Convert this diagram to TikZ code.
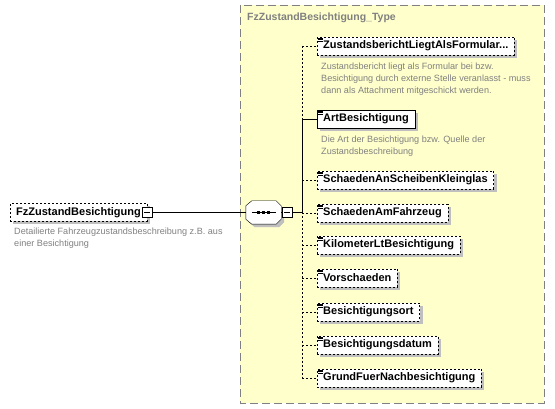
\documentclass[tikz,border=0pt]{standalone}
\usepackage{fontspec}
\setmainfont{Liberation Sans}
\usetikzlibrary{positioning,shadows}

\definecolor{typefill}{HTML}{FFFFCC}
\definecolor{docgray}{HTML}{808080}

\tikzset{
  shadowed/.style={drop shadow={shadow xshift=3pt, shadow yshift=-3pt, fill=black!25, opacity=1}},
  elem/.style={draw, fill=white, anchor=west, minimum height=18pt, inner xsep=6pt, inner ysep=0pt,
    font=\fontsize{11}{12}\selectfont\bfseries, shadowed},
  optelem/.style={elem, dash pattern=on 2pt off 2pt},
  optline/.style={dash pattern=on 2pt off 2pt},
  doc/.style={anchor=north west, inner sep=0pt, align=left, text=docgray, font=\fontsize{9.1}{12}\selectfont},
  btn/.style={draw, fill=white, minimum size=10pt, inner sep=0pt,
    path picture={\draw ([xshift=2pt]path picture bounding box.west) -- ([xshift=-2pt]path picture bounding box.east);}},
}

\newcommand\elemicon[1]{%
  \foreach \k in {1,2.5,4}
    \draw[line width=0.5pt] ([xshift=1pt,yshift=-\k pt]#1.north west) -- ++(5,0);}

\begin{document}
\begin{tikzpicture}[x=1pt, y=-1pt]
    \useasboundingbox (0,0) rectangle (555,409);

    % complex type frame
    \draw[docgray, fill=typefill, dash pattern=on 8pt off 4pt] (240,5) rectangle (544,403);
    \node[anchor=west, inner sep=0pt, text=docgray, font=\fontsize{10.5}{12}\selectfont\bfseries] (title) at (247,18) {FzZustandBesichtigung\_Type};

    % root element
    \node[optelem] (fz) at (10,212.5) {FzZustandBesichtigung};
    \node[btn] (fzbtn) at (fz.east) {};
    \node[doc] (fzdoc) at (14,228) {Detailierte Fahrzeugzustandsbeschreibung z.B. aus\\einer Besichtigung};

    % sequence
    \node[minimum width=35pt, minimum height=23pt, inner sep=0pt] (seq) at (263.5,212.5) {};
    \draw[fill=white, shadowed] ([xshift=6pt]seq.north west) -- ([xshift=-5pt]seq.north east)
      -- ([yshift=-5pt]seq.north east) -- ([yshift=5pt]seq.south east)
      -- ([xshift=-5pt]seq.south east) -- ([xshift=6pt]seq.south west)
      -- ([yshift=5pt]seq.south west) -- ([yshift=-5pt]seq.north west) -- cycle;
    \draw ([xshift=-12pt]seq.center) -- ([xshift=12pt]seq.center);
    \foreach \d in {-5,0,5}
      \fill ([xshift=\d pt]seq.center) +(-1.5,-1.5) rectangle +(1.5,1.5);
    \node[btn] (seqbtn) at (287,212.5) {};
    \coordinate (spine) at (302,212.5);

    % child elements
    \node[optelem] (zb)  at (317,46)  {ZustandsberichtLiegtAlsFormular...};
    \node[elem]    (art) at (317,119) {ArtBesichtigung};
    \node[optelem] (sk)  at (317,180) {SchaedenAnScheibenKleinglas};
    \node[optelem] (sf)  at (317,213) {SchaedenAmFahrzeug};
    \node[optelem] (km)  at (317,245) {KilometerLtBesichtigung};
    \node[optelem] (vs)  at (317,278) {Vorschaeden};
    \node[optelem] (bo)  at (317,312) {Besichtigungsort};
    \node[optelem] (bd)  at (317,345) {Besichtigungsdatum};
    \node[optelem] (gn)  at (317,378) {GrundFuerNachbesichtigung};

    \foreach \c in {zb,art,sk,sf,km,vs,bo,bd,gn}
      \elemicon{\c};

    % documentation
    \node[doc] (zbdoc)  at (321,63)  {Zustandsbericht liegt als Formular bei bzw.\\Besichtigung durch externe Stelle veranlasst - muss\\dann als Attachment mitgeschickt werden.};
    \node[doc] (artdoc) at (321,136) {Die Art der Besichtigung bzw. Quelle der\\Zustandsbeschreibung};

    % edges
    \draw (fzbtn) -- (seq);
    \draw (seq) -- (seqbtn);
    \draw (seqbtn) -- (spine);
    \draw[optline] (spine |- zb.west) -- (spine |- art.west);
    \draw (spine |- art.west) -- (spine);
    \draw[optline] (spine) -- (spine |- gn.west);
    \draw (spine |- art.west) -- (art.west);
    \foreach \c in {zb,sk,sf,km,vs,bo,bd,gn}
      \draw[optline] (spine |- \c.west) -- (\c.west);
\end{tikzpicture}
\end{document}
